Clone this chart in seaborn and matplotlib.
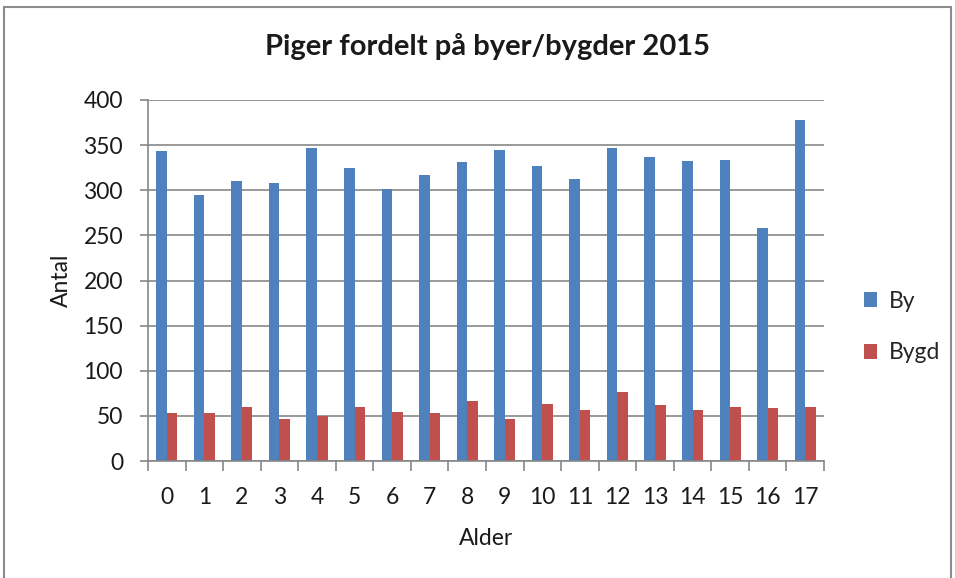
import matplotlib
matplotlib.use("Agg")
import matplotlib.pyplot as plt
import seaborn as sns
import pandas as pd
from matplotlib.patches import Rectangle, Patch

ages = [str(i) for i in range(18)]
by = [344, 295, 310, 308, 347, 325, 301, 317, 331, 345, 327, 312, 347, 337, 332, 334, 258, 378]
bygd = [53, 53, 60, 46, 50, 60, 54, 53, 66, 47, 63, 56, 77, 62, 57, 60, 59, 60]
series = ["By", "Bygd"]
colors = ["#4F81BD", "#C0504D"]

df = pd.DataFrame({
    "Alder": ages * 2,
    "Antal": by + bygd,
    "Serie": ["By"] * len(ages) + ["Bygd"] * len(ages),
})

sns.set_theme(style="white")
plt.rcParams["font.family"] = ["Lato", "DejaVu Sans"]

fig = plt.figure(figsize=(9.55, 5.78), dpi=100)
ax = fig.add_axes([148 / 955, 1 - 461 / 578, (824 - 148) / 955, (461 - 100) / 578])

sns.barplot(data=df, x="Alder", y="Antal", hue="Serie", order=ages, hue_order=series,
            palette=colors, width=0.56, saturation=1, ax=ax, legend=False,
            edgecolor="none", linewidth=0)

gray = "#878787"
ax.set_ylim(0, 400)
ax.set_xlim(-0.5, len(ages) - 0.5)
ax.set_yticks(range(0, 401, 50))
ax.yaxis.grid(True, color=gray, linewidth=1.2)
ax.set_axisbelow(True)
for s in ["top", "right"]:
    ax.spines[s].set_visible(False)
for s in ["left", "bottom"]:
    ax.spines[s].set_color(gray)
    ax.spines[s].set_linewidth(1.2)

ax.set_xticks([i - 0.5 for i in range(len(ages) + 1)], minor=True)
ax.tick_params(axis="x", which="minor", length=7, color=gray, width=1.2, direction="out", bottom=True)
ax.tick_params(axis="x", which="major", length=0, pad=19, labelsize=16.5, labelcolor="#1a1a1a")
ax.tick_params(axis="y", which="major", length=6, color=gray, width=1.2, direction="out", left=True,
               pad=12, labelsize=16.5, labelcolor="#1a1a1a")

ax.set_xlabel("Alder", fontsize=16.5, color="#1a1a1a", labelpad=14)
ax.set_ylabel("Antal", fontsize=16.5, color="#1a1a1a", labelpad=8)
fig.text(0.5 * (262 + 712) / 955, 1 - 47 / 578, "Piger fordelt på byer/bygder 2015",
         ha="center", va="center", fontsize=21, fontweight="bold", color="#1a1a1a")

handles = [Patch(facecolor=c, edgecolor="none") for c in colors]
leg = fig.legend(handles, series, loc="center left", bbox_to_anchor=(843 / 955, 1 - 327 / 578),
                 frameon=False, fontsize=16.5, handlelength=0.6, handleheight=0.6,
                 handletextpad=0.5, labelspacing=1.35)

fig.patches.append(Rectangle((4 / 955, -0.05), (951 - 4) / 955, 1 - 7 / 578 + 0.05,
                             transform=fig.transFigure, fill=False, edgecolor="#8c8c8c",
                             linewidth=1.5))

fig.savefig("out.png", dpi=100)
